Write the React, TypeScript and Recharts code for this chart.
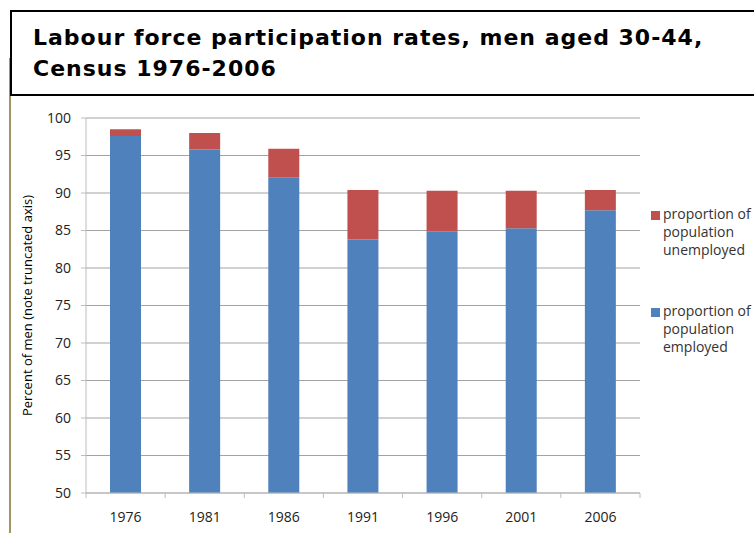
import React from 'react';
import {
  BarChart,
  Bar,
  XAxis,
  YAxis,
  CartesianGrid,
} from 'recharts';

// ---------------------------------------------------------------------------
// Data
// ---------------------------------------------------------------------------

const YEARS = ['1976', '1981', '1986', '1991', '1996', '2001', '2006'];
const EMPLOYED = [97.6, 95.8, 92.1, 83.8, 84.9, 85.3, 87.7];
const UNEMPLOYED = [0.9, 2.2, 3.8, 6.6, 5.4, 5.0, 2.7];
const Y_TICKS = [50, 55, 60, 65, 70, 75, 80, 85, 90, 95, 100];

const BLUE = '#4F81BD';
const RED = '#C0504D';
const AXIS_GREY = '#bdbdbd';
const GRID_GREY = '#a3a3a3';
const FONT = '"Open Sans", Lato, sans-serif';

// plot area geometry
const PLOT_LEFT = 86;
const PLOT_RIGHT = 640;
const PLOT_TOP = 118;
const PLOT_BOTTOM = 493;
const CHART_W = 754;
const CHART_H = 533;
const BAND = (PLOT_RIGHT - PLOT_LEFT) / YEARS.length;

const chartData = YEARS.map((year, i) => ({
  year,
  employed: EMPLOYED[i],
  unemployed: UNEMPLOYED[i],
}));

// ---------------------------------------------------------------------------
// Custom x tick: label + Excel-style category separator ticks
// ---------------------------------------------------------------------------

function YearTick(props: any) {
  const { x, y, payload, index } = props;
  const isLast = index === YEARS.length - 1;
  return (
    <g>
      <line x1={x - BAND / 2} x2={x - BAND / 2} y1={y - 8} y2={y - 3} stroke={AXIS_GREY} />
      {isLast && (
        <line x1={x + BAND / 2} x2={x + BAND / 2} y1={y - 8} y2={y - 3} stroke={AXIS_GREY} />
      )}
      <text
        x={x}
        y={y + 21}
        textAnchor="middle"
        fontSize={14}
        fontFamily={FONT}
        fill="#222"
      >
        {payload.value}
      </text>
    </g>
  );
}

// ---------------------------------------------------------------------------
// Legend (Excel lists the stacked series top-down)
// ---------------------------------------------------------------------------

const LEGEND_ITEMS = [
  { color: RED, lines: ['proportion of', 'population', 'unemployed'] },
  { color: BLUE, lines: ['proportion of', 'population', 'employed'] },
];

function ChartLegend() {
  return (
    <div
      style={{
        position: 'absolute',
        left: 651,
        top: 205,
        fontFamily: FONT,
        fontSize: 14,
        color: '#333',
        lineHeight: '18px',
        whiteSpace: 'nowrap',
      }}
    >
      {LEGEND_ITEMS.map((item, i) => (
        <div key={i} style={{ display: 'flex', marginBottom: i === 0 ? 43 : 0 }}>
          <span
            style={{
              display: 'inline-block',
              width: 9,
              height: 9,
              background: item.color,
              marginTop: 6,
              marginRight: 3,
              flexShrink: 0,
            }}
          />
          <div>
            {item.lines.map((l) => (
              <div key={l}>{l}</div>
            ))}
          </div>
        </div>
      ))}
    </div>
  );
}

// ---------------------------------------------------------------------------
// App
// ---------------------------------------------------------------------------

export default function App() {
  return (
    <div
      style={{
        position: 'fixed',
        left: 0,
        top: 0,
        width: CHART_W,
        height: CHART_H,
        background: '#fff',
        overflow: 'hidden',
      }}
    >
      {/* thin tan frame line on the left */}
      <div
        style={{
          position: 'absolute',
          left: 9,
          top: 58,
          width: 2,
          height: CHART_H - 58,
          background: '#a39566',
        }}
      />

      {/* Title box */}
      <div
        style={{
          position: 'absolute',
          left: 10,
          top: 10,
          width: 800,
          height: 86,
          border: '2px solid #000',
          background: '#fff',
          boxSizing: 'border-box',
          paddingLeft: 21,
          paddingTop: 10,
          fontFamily: '"DejaVu Sans", Verdana, sans-serif',
          fontWeight: 'bold',
          fontSize: 22,
          letterSpacing: 1,
          lineHeight: '31px',
          color: '#000',
        }}
      >
        Labour force participation rates, men aged 30-44,
        <br />
        Census 1976-2006
      </div>

      <div style={{ position: 'absolute', left: 0, top: 0 }}>
        <BarChart
          width={CHART_W}
          height={CHART_H}
          data={chartData}
          margin={{
            top: PLOT_TOP,
            left: PLOT_LEFT - 50,
            right: CHART_W - PLOT_RIGHT,
            bottom: CHART_H - PLOT_BOTTOM - 30,
          }}
          barSize={31}
        >
          <CartesianGrid vertical={false} stroke={GRID_GREY} />
          <XAxis
            dataKey="year"
            height={30}
            tickLine={false}
            axisLine={{ stroke: AXIS_GREY }}
            tick={<YearTick />}
            interval={0}
          />
          <YAxis
            width={50}
            domain={[50, 100]}
            ticks={Y_TICKS}
            allowDataOverflow
            tickSize={5}
            tickMargin={10}
            tickLine={{ stroke: AXIS_GREY }}
            axisLine={{ stroke: AXIS_GREY }}
            tick={{ fontSize: 14, fontFamily: FONT, fill: '#222' }}
            label={{
              value: 'Percent of men (note truncated axis)',
              angle: -90,
              position: 'insideLeft',
              offset: 0,
              dx: -9,
              style: {
                fontSize: 13,
                fontFamily: FONT,
                fill: '#000',
                textAnchor: 'middle',
              },
            }}
          />
          <Bar dataKey="employed" stackId="a" fill={BLUE} isAnimationActive={false} />
          <Bar dataKey="unemployed" stackId="a" fill={RED} isAnimationActive={false} />
        </BarChart>
      </div>

      <ChartLegend />
    </div>
  );
}
